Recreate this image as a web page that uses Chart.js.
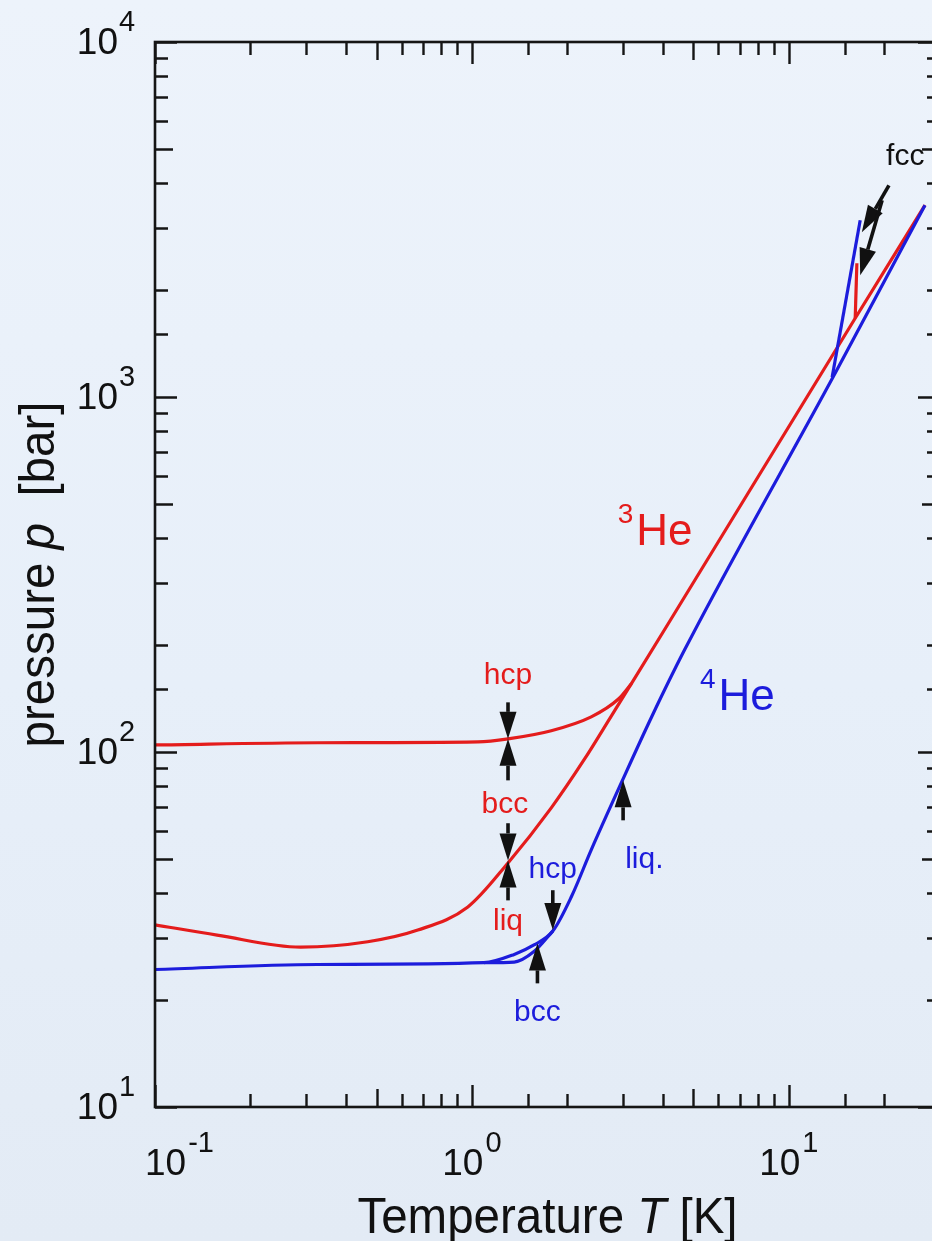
<!DOCTYPE html>
<html>
<head>
<meta charset="utf-8">
<script src="https://cdn.jsdelivr.net/npm/chart.js@4.4.1/dist/chart.umd.min.js"></script>
<style>
html, body { margin: 0; padding: 0; overflow: hidden; width: 932px; height: 1241px; }
body { background: linear-gradient(180deg, #edf3fb 0%, #e7eff9 55%, #e3ebf5 100%); }
#wrap { position: absolute; left: 0; top: 0; width: 945px; height: 1241px; }
</style>
</head>
<body>
<div id="wrap"><canvas id="grafico" width="945" height="1241"></canvas></div>
<script>
// Dados: [T em K, p em bar]
const he3HcpBcc = [[0.1, 104.7], [0.326, 106.2], [1.045, 106.8], [1.30, 108.9], [1.78, 114.8], [2.38, 125.6], [2.90, 141], [3.19, 156]];
const he3Fusao = [[0.1, 32.6], [0.157, 30.5], [0.288, 28.2], [0.469, 29.2], [0.675, 31.5], [0.971, 36.6], [1.30, 48.7], [1.78, 69.6], [2.26, 95.1], [2.75, 126], [3.19, 156], [4.59, 265], [16.2, 1667], [26.9, 3470]];
const he3Fcc = [[16.2, 1667], [16.4, 2380]];
const he4Fusao = [[0.1, 24.4], [0.326, 25.2], [1.091, 25.5], [1.36, 26.9], [1.57, 28.6], [1.80, 31.3], [2.06, 39.1], [2.38, 53.0], [2.96, 81.8], [3.69, 125.5], [4.69, 194], [14.0, 1166], [26.9, 3470]];
const he4Bcc = [[1.091, 25.5], [1.36, 25.6], [1.57, 27.4], [1.80, 31.3]];
const he4Fcc = [[13.7, 1137], [16.8, 3148]];

// Rótulos dos eixos
const xMajores = [0.1, 1, 10];
const yMajores = [10, 100, 1000, 10000];

// Setas: de [T, p] até [T, p]
const setas = [
    { de: [1.30, 138], ate: [1.30, 108.9] },
    { de: [1.30, 83.2], ate: [1.30, 108.9] },
    { de: [1.30, 63.0], ate: [1.30, 49.5] },
    { de: [1.30, 38.2], ate: [1.30, 49.5] },
    { de: [1.80, 40.8], ate: [1.80, 31.5] },
    { de: [1.61, 22.3], ate: [1.61, 28.9] },
    { de: [3.0, 64.2], ate: [3.0, 83.2] },
    { de: [20.7, 3948], ate: [17.0, 2911] },
    { de: [19.7, 3581], ate: [16.8, 2202] }
];

// Textos: [T, p, texto, cor]
const textos = [
    [1.30, 155, 'hcp', '#e41c1c'],
    [1.27, 67.2, 'bcc', '#e41c1c'],
    [1.30, 31.5, 'liq', '#e41c1c'],
    [1.80, 44.1, 'hcp', '#1c1cdc'],
    [1.61, 17.5, 'bcc', '#1c1cdc'],
    [3.50, 47.0, 'liq.', '#1c1cdc'],
    [23.3, 4494, 'fcc', '#111111']
];
const isotopos = [
    [3.30, 382, '3', 'He', '#e41c1c'],
    [6.00, 131, '4', 'He', '#1c1cdc']
];

const VERMELHO = '#e41c1c';
const AZUL = '#1c1cdc';
const FONTE = '"Liberation Sans", Arial, Helvetica, sans-serif';

function pontos(lista) {
    return lista.map(p => ({ x: p[0], y: p[1] }));
}

function serie(lista, cor, monotona) {
    return {
        data: pontos(lista),
        showLine: true,
        borderColor: cor,
        borderWidth: 3.2,
        pointRadius: 0,
        cubicInterpolationMode: monotona ? 'monotone' : 'default',
        tension: 0
    };
}

function tamanhoTick(v) {
    const e = Math.floor(Math.log10(v) + 1e-9);
    const m = Math.round(v / Math.pow(10, e));
    if (m === 1 || m === 10) return 22;
    if (m === 5) return 18;
    return 13;
}

function expoente(v) {
    return String(Math.round(Math.log10(v)));
}

const moldura = {
    id: 'moldura',
    afterDatasetsDraw(chart) {
        const { ctx, chartArea: a, scales: { x, y } } = chart;
        ctx.save();

        // Caixa
        ctx.strokeStyle = '#151515';
        ctx.lineWidth = 2.6;
        ctx.strokeRect(a.left, a.top, a.right - a.left, a.bottom - a.top);

        // Marcas para dentro nos quatro lados
        ctx.lineWidth = 2.4;
        ctx.beginPath();
        x.ticks.forEach(t => {
            const px = Math.round(x.getPixelForValue(t.value)) + 0.5;
            const len = tamanhoTick(t.value);
            ctx.moveTo(px, a.bottom); ctx.lineTo(px, a.bottom - len);
            ctx.moveTo(px, a.top); ctx.lineTo(px, a.top + len);
        });
        y.ticks.forEach(t => {
            const py = Math.round(y.getPixelForValue(t.value)) + 0.5;
            const len = tamanhoTick(t.value);
            ctx.moveTo(a.left, py); ctx.lineTo(a.left + len, py);
            ctx.moveTo(a.right, py); ctx.lineTo(a.right - len, py);
        });
        ctx.stroke();

        // Rótulos 10^n
        ctx.fillStyle = '#111';
        ctx.textBaseline = 'alphabetic';
        yMajores.forEach(v => {
            const py = y.getPixelForValue(v);
            ctx.font = '37px ' + FONTE;
            ctx.textAlign = 'right';
            ctx.fillText('10', a.left - 37, py + 12);
            ctx.font = '29px ' + FONTE;
            ctx.textAlign = 'left';
            ctx.fillText(expoente(v), a.left - 36, py - 11);
        });
        xMajores.forEach(v => {
            const px = x.getPixelForValue(v);
            ctx.font = '37px ' + FONTE;
            const w1 = ctx.measureText('10').width;
            ctx.font = '29px ' + FONTE;
            const w2 = ctx.measureText(expoente(v)).width;
            let x0 = px - (w1 + w2 + 2) / 2;
            if (x0 < a.left - 10) x0 = a.left - 10;
            ctx.textAlign = 'left';
            ctx.font = '37px ' + FONTE;
            ctx.fillText('10', x0, a.bottom + 68);
            ctx.font = '29px ' + FONTE;
            ctx.fillText(expoente(v), x0 + w1 + 2, a.bottom + 45);
        });

        // Títulos dos eixos
        desenhaTitulo(ctx, [['Temperature ', false], ['T', true], [' [K]', false]], (a.left + a.right) / 2, a.bottom + 126, 0);
        desenhaTitulo(ctx, [['pressure ', false], ['p', true], ['  [bar]', false]], 54, (a.top + a.bottom) / 2, -Math.PI / 2);

        // Setas
        ctx.fillStyle = '#111';
        ctx.strokeStyle = '#111';
        setas.forEach(s => {
            const x1 = x.getPixelForValue(s.de[0]), y1 = y.getPixelForValue(s.de[1]);
            const x2 = x.getPixelForValue(s.ate[0]), y2 = y.getPixelForValue(s.ate[1]);
            const ang = Math.atan2(y2 - y1, x2 - x1);
            const cab = 27, lar = 8.5;
            const bx = x2 - cab * Math.cos(ang), by = y2 - cab * Math.sin(ang);
            ctx.lineWidth = 3.6;
            ctx.beginPath();
            ctx.moveTo(x1, y1);
            ctx.lineTo(bx, by);
            ctx.stroke();
            ctx.beginPath();
            ctx.moveTo(x2, y2);
            ctx.lineTo(bx + lar * Math.sin(ang), by - lar * Math.cos(ang));
            ctx.lineTo(bx - lar * Math.sin(ang), by + lar * Math.cos(ang));
            ctx.closePath();
            ctx.fill();
        });

        // Rótulos das fases
        ctx.textAlign = 'center';
        ctx.font = '30px ' + FONTE;
        textos.forEach(t => {
            ctx.fillStyle = t[3];
            ctx.fillText(t[2], x.getPixelForValue(t[0]), y.getPixelForValue(t[1]));
        });

        // 3He e 4He
        isotopos.forEach(t => {
            const px = x.getPixelForValue(t[0]), py = y.getPixelForValue(t[1]);
            ctx.fillStyle = t[4];
            ctx.textAlign = 'left';
            ctx.font = '44px ' + FONTE;
            ctx.fillText(t[3], px, py);
            ctx.font = '28px ' + FONTE;
            ctx.textAlign = 'right';
            ctx.fillText(t[2], px - 3, py - 22);
        });

        ctx.restore();
    }
};

function desenhaTitulo(ctx, partes, cx, cy, rot) {
    ctx.save();
    ctx.translate(cx, cy);
    ctx.rotate(rot);
    ctx.scale(0.95, 1);
    ctx.fillStyle = '#111';
    ctx.textAlign = 'left';
    let total = 0;
    partes.forEach(p => {
        ctx.font = (p[1] ? 'italic ' : '') + '50px ' + FONTE;
        total += ctx.measureText(p[0]).width;
    });
    let xx = -total / 2;
    partes.forEach(p => {
        ctx.font = (p[1] ? 'italic ' : '') + '50px ' + FONTE;
        ctx.fillText(p[0], xx, 0);
        xx += ctx.measureText(p[0]).width;
    });
    ctx.restore();
}

const ctx = document.getElementById('grafico').getContext('2d');
window.grafico = new Chart(ctx, {
    type: 'scatter',
    data: {
        datasets: [
            serie(he4Fcc, AZUL, false),
            serie(he4Bcc, AZUL, true),
            serie(he4Fusao, AZUL, true),
            serie(he3Fcc, VERMELHO, false),
            serie(he3HcpBcc, VERMELHO, true),
            serie(he3Fusao, VERMELHO, true)
        ]
    },
    options: {
        responsive: false,
        animation: false,
        devicePixelRatio: 1,
        layout: { padding: { top: 42, right: 5, left: 0, bottom: 0 } },
        plugins: { legend: { display: false }, tooltip: { enabled: false } },
        scales: {
            x: {
                type: 'logarithmic', min: 0.1, max: 30,
                grid: { display: false }, border: { display: false },
                ticks: { display: false },
                afterFit: function(s) { s.height = 134; }
            },
            y: {
                type: 'logarithmic', min: 10, max: 10000,
                grid: { display: false }, border: { display: false },
                ticks: { display: false },
                afterFit: function(s) { s.width = 155; }
            }
        }
    },
    plugins: [moldura]
});
</script>
</body>
</html>
